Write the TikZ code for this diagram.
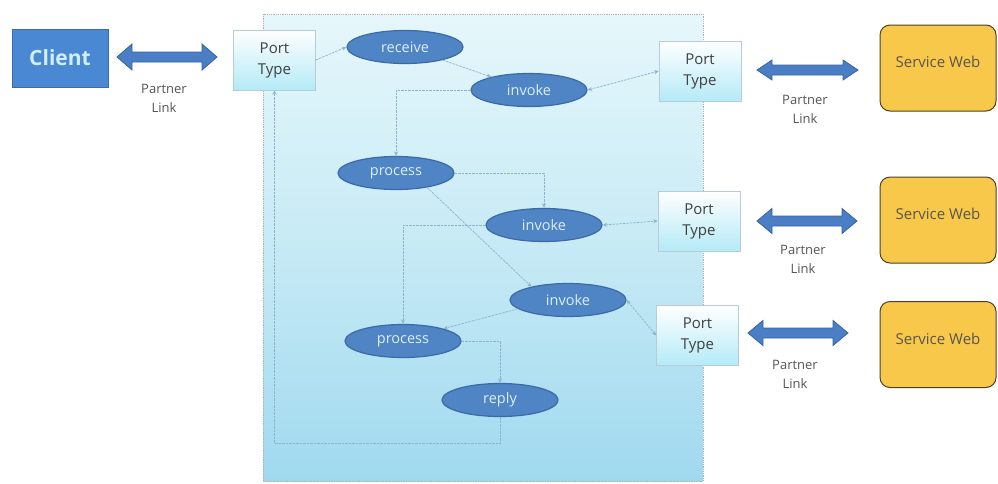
\documentclass[tikz,border=0pt]{standalone}
\usepackage{fontspec}
\setmainfont{Open Sans}
\usetikzlibrary{shapes.geometric,arrows.meta,calc}

\definecolor{actfill}{HTML}{4F85C5}
\definecolor{actline}{HTML}{3C6AA6}
\definecolor{acttext}{HTML}{DCEFFA}
\definecolor{clientfill}{HTML}{4A88D4}
\definecolor{clientline}{HTML}{3A6CAD}
\definecolor{clienttext}{HTML}{CFF0FF}
\definecolor{portbot}{HTML}{B4EAF7}
\definecolor{portline}{HTML}{B6CDD6}
\definecolor{wsfill}{HTML}{F7C84A}
\definecolor{wsline}{HTML}{4E4020}
\definecolor{wstext}{HTML}{5A5550}
\definecolor{flowline}{HTML}{8DB3CC}
\definecolor{linkfill}{HTML}{4A7FC6}
\definecolor{linkline}{HTML}{3862A0}
\definecolor{processtop}{HTML}{E6F7FB}
\definecolor{processmid}{HTML}{C6EAF5}
\definecolor{processbot}{HTML}{A0D9EF}
\definecolor{labeltext}{HTML}{555555}

% double-headed partner-link arrow: centre x, centre y, half length, head half-height
\newcommand\partnerlink[4]{%
  \draw[linkarrow] (#1-#3,#2) -- ++(15,-#4) -- ++(0,#4-5) -- (#1+#3-15,#2-5)
    -- ++(0,5-#4) -- (#1+#3,#2) -- (#1+#3-15,#2+#4) -- ++(0,5-#4)
    -- (#1-#3+15,#2+5) -- ++(0,#4-5) -- cycle;}

\tikzset{
  activity/.style={ellipse, fill=actfill, draw=actline, line width=1.2pt,
    minimum width=116pt, minimum height=33pt, inner sep=0pt, text=acttext,
    font=\fontsize{14.5}{16}\selectfont},
  port/.style={rectangle, top color=white, bottom color=portbot, draw=portline,
    line width=0.6pt, minimum width=82pt, minimum height=60pt, align=center,
    text=black!75, font=\fontsize{15}{21}\selectfont},
  websvc/.style={rectangle, rounded corners=10pt, fill=wsfill, draw=wsline,
    line width=1pt, minimum width=116pt, minimum height=86pt, text=wstext,
    font=\fontsize{15}{18}\selectfont, text depth=12pt},
  lbl/.style={align=center, text=labeltext, font=\fontsize{13}{19}\selectfont},
  flow/.style={draw=flowline, line width=0.7pt, dash pattern=on 2.5pt off 1pt,
    -{Stealth[length=4.5pt,width=4pt]}},
  flow2/.style={flow, {Stealth[length=4.5pt,width=4pt]}-{Stealth[length=4.5pt,width=4pt]}},
  linkarrow/.style={fill=linkfill, draw=linkline, line width=0.8pt, line join=miter},
}

\begin{document}
\begin{tikzpicture}[x=1pt,y=-1pt]
\useasboundingbox (0,0) rectangle (998,483);

% process container
\path[top color=processtop, bottom color=processmid] (263,14) rectangle (703,250);
\path[top color=processmid, bottom color=processbot] (263,249.5) rectangle (703,481);
\draw[gray!60, densely dotted, line width=0.8pt] (263,14) rectangle (703,481);

% client side
\node[rectangle, fill=clientfill, draw=clientline, line width=0.8pt,
  minimum width=96pt, minimum height=58pt, text=clienttext,
  font=\fontsize{21}{24}\selectfont\bfseries] (client) at (60,58) {Client};
\partnerlink{167}{57}{50}{13}
\node[lbl] (pl1) at (164,98) {Partner\\Link};

% port types
\node[port] (pt1) at (274.5,60) {Port\\Type};
\node[port] (pt2) at (700,71) {Port\\Type};
\node[port] (pt3) at (699,221) {Port\\Type};
\node[port] (pt4) at (697.5,335.5) {Port\\Type};

% activities
\node[activity] (receive) at (405,47) {receive};
\node[activity] (inv1) at (529,90) {invoke};
\node[activity] (proc1) at (396,173) {process};
\node[activity] (inv2) at (544,225) {invoke};
\node[activity] (inv3) at (568,300) {invoke};
\node[activity] (proc2) at (403,341) {process};
\node[activity] (reply) at (500,400) {reply};

% control flow
\draw[flow] (pt1.east) -- (receive.west);
\draw[flow] (receive) -- (inv1);
\draw[flow2] (inv1.east) -- (pt2.west);
\draw[flow] (inv1.west) -| (proc1.north);
\draw[flow] (proc1.east) -| (inv2.north);
\draw[flow] (proc1.-25) -- (inv3.160);
\draw[flow2] (inv2.east) -- (pt3.west);
\draw[flow] (inv2.west) -| (proc2.north);
\draw[flow] (inv3.190) -- (proc2.17);
\draw[flow2] (inv3.east) -- (pt4.west);
\draw[flow] (proc2.east) -| (reply.north);
\draw[flow] (reply.south) -- ++(0,26) -| (pt1.south);

% partner links to the web services
\partnerlink{807.5}{70}{50.5}{10}
\node[lbl] (pl2) at (805,109) {Partner\\Link};
\node[websvc] (ws1) at (938,68) {Service Web};

\partnerlink{807}{221}{50}{12.5}
\node[lbl] (pl3) at (803,259) {Partner\\Link};
\node[websvc] (ws2) at (938,220) {Service Web};

\partnerlink{798}{333}{50}{12.5}
\node[lbl] (pl4) at (795,374) {Partner\\Link};
\node[websvc] (ws3) at (938,344.5) {Service Web};
\end{tikzpicture}
\end{document}
